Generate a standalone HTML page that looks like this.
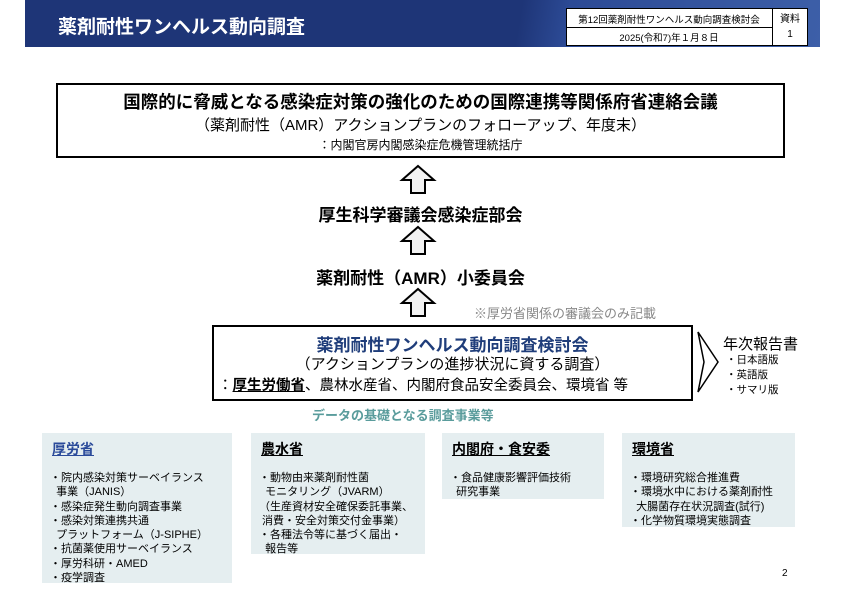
<!DOCTYPE html>
<html><head><meta charset="utf-8"><style>
*{margin:0;padding:0;box-sizing:border-box}
body{width:841px;height:595px;background:#fff;position:relative;overflow:hidden;font-family:"Liberation Sans","Noto Sans CJK JP",sans-serif;color:#000}
.a{position:absolute;white-space:nowrap}
.c{text-align:center}
.bx{position:absolute;background:#e5eef0}
.bx h3{font-size:14px;font-weight:bold;text-decoration:underline;position:absolute;left:10px;top:6px}
.bx ul{list-style:none;position:absolute;left:8px;top:38px;font-size:11px;line-height:14.3px}
</style></head><body>
<div class="a" style="left:25px;top:0;width:795px;height:47px;background:linear-gradient(100deg,#1e3577 0%,#1e3577 62%,#2c4a95 68%,#3d5fa8 100%)"></div>
<div class="a" style="left:58px;top:12px;font-size:19px;font-weight:bold;color:#fff">薬剤耐性ワンヘルス動向調査</div>
<div class="a" style="left:566px;top:8px;width:242px;height:38px;background:#fff;border:1px solid #000"></div>
<div class="a" style="left:566px;top:27px;width:206px;height:1px;background:#000"></div>
<div class="a" style="left:772px;top:8px;width:1px;height:38px;background:#000"></div>
<div class="a c" style="left:566px;top:12px;width:206px;font-size:9.5px">第12回薬剤耐性ワンヘルス動向調査検討会</div>
<div class="a c" style="left:566px;top:30px;width:206px;font-size:9.5px">2025(令和7)年１月８日</div>
<div class="a c" style="left:772px;top:12px;width:36px;font-size:10px;line-height:15px">資料<br>1</div>

<div class="a" style="left:56px;top:83px;width:729px;height:75px;border:2px solid #000"></div>
<div class="a c" style="left:56px;top:89px;width:729px;font-size:17.5px;font-weight:bold">国際的に脅威となる感染症対策の強化のための国際連携等関係府省連絡会議</div>
<div class="a c" style="left:56px;top:114px;width:729px;font-size:15px">（薬剤耐性（AMR）アクションプランのフォローアップ、年度末）</div>
<div class="a c" style="left:56px;top:136px;width:729px;font-size:12px">：内閣官房内閣感染症危機管理統括庁</div>

<svg class="a" style="left:0;top:0" width="841" height="595">
<g fill="#f2f2f2" stroke="#000" stroke-width="2">
<path d="M418 166 L434 180 L425 180 L425 193 L411 193 L411 180 L402 180 Z"/>
<path d="M418 227 L434 241 L425 241 L425 254 L411 254 L411 241 L402 241 Z"/>
<path d="M418 289 L434 303 L425 303 L425 316 L411 316 L411 303 L402 303 Z"/>
</g>
<path d="M698 332 L718 362 L698 392 L704 362 Z" fill="none" stroke="#000" stroke-width="1.5"/>
</svg>

<div class="a c" style="left:0;top:201px;width:841px;font-size:17px;font-weight:bold">厚生科学審議会感染症部会</div>
<div class="a c" style="left:0;top:264px;width:841px;font-size:17px;font-weight:bold">薬剤耐性（AMR）小委員会</div>
<div class="a" style="left:474px;top:303px;font-size:13px;color:#888">※厚労省関係の審議会のみ記載</div>

<div class="a" style="left:212px;top:325px;width:481px;height:76px;border:2px solid #000"></div>
<div class="a c" style="left:212px;top:331px;width:481px;font-size:17px;font-weight:bold;color:#1f3d7a">薬剤耐性ワンヘルス動向調査検討会</div>
<div class="a c" style="left:212px;top:353px;width:481px;font-size:15px">（アクションプランの進捗状況に資する調査）</div>
<div class="a" style="left:218px;top:374px;font-size:14.5px">：<b style="text-decoration:underline">厚生労働省</b>、農林水産省、内閣府食品安全委員会、環境省 等</div>
<div class="a" style="left:723px;top:333px;font-size:15px">年次報告書</div>
<div class="a" style="left:726px;top:353px;font-size:10.5px;line-height:15px">・日本語版<br>・英語版<br>・サマリ版</div>
<div class="a" style="left:312px;top:405px;font-size:13px;font-weight:bold;color:#5a9c9c">データの基礎となる調査事業等</div>

<div class="bx" style="left:42px;top:433px;width:190px;height:150px"><h3 style="color:#2a4a9a">厚労省</h3>
<ul><li>・院内感染対策サーベイランス</li><li>&nbsp;&nbsp;事業（JANIS）</li><li>・感染症発生動向調査事業</li><li>・感染対策連携共通</li><li>&nbsp;&nbsp;プラットフォーム（J-SIPHE）</li><li>・抗菌薬使用サーベイランス</li><li>・厚労科研・AMED</li><li>・疫学調査</li></ul></div>
<div class="bx" style="left:251px;top:433px;width:174px;height:121px"><h3>農水省</h3>
<ul><li>・動物由来薬剤耐性菌</li><li>&nbsp;&nbsp;モニタリング（JVARM）</li><li>（生産資材安全確保委託事業、</li><li>&nbsp;消費・安全対策交付金事業）</li><li>・各種法令等に基づく届出・</li><li>&nbsp;&nbsp;報告等</li></ul></div>
<div class="bx" style="left:442px;top:433px;width:162px;height:66px"><h3>内閣府・食安委</h3>
<ul><li>・食品健康影響評価技術</li><li>&nbsp;&nbsp;研究事業</li></ul></div>
<div class="bx" style="left:622px;top:433px;width:173px;height:94px"><h3>環境省</h3>
<ul><li>・環境研究総合推進費</li><li>・環境水中における薬剤耐性</li><li>&nbsp;&nbsp;大腸菌存在状況調査(試行)</li><li>・化学物質環境実態調査</li></ul></div>
<div class="a" style="left:782px;top:568px;font-size:10px">2</div>
</body></html>
